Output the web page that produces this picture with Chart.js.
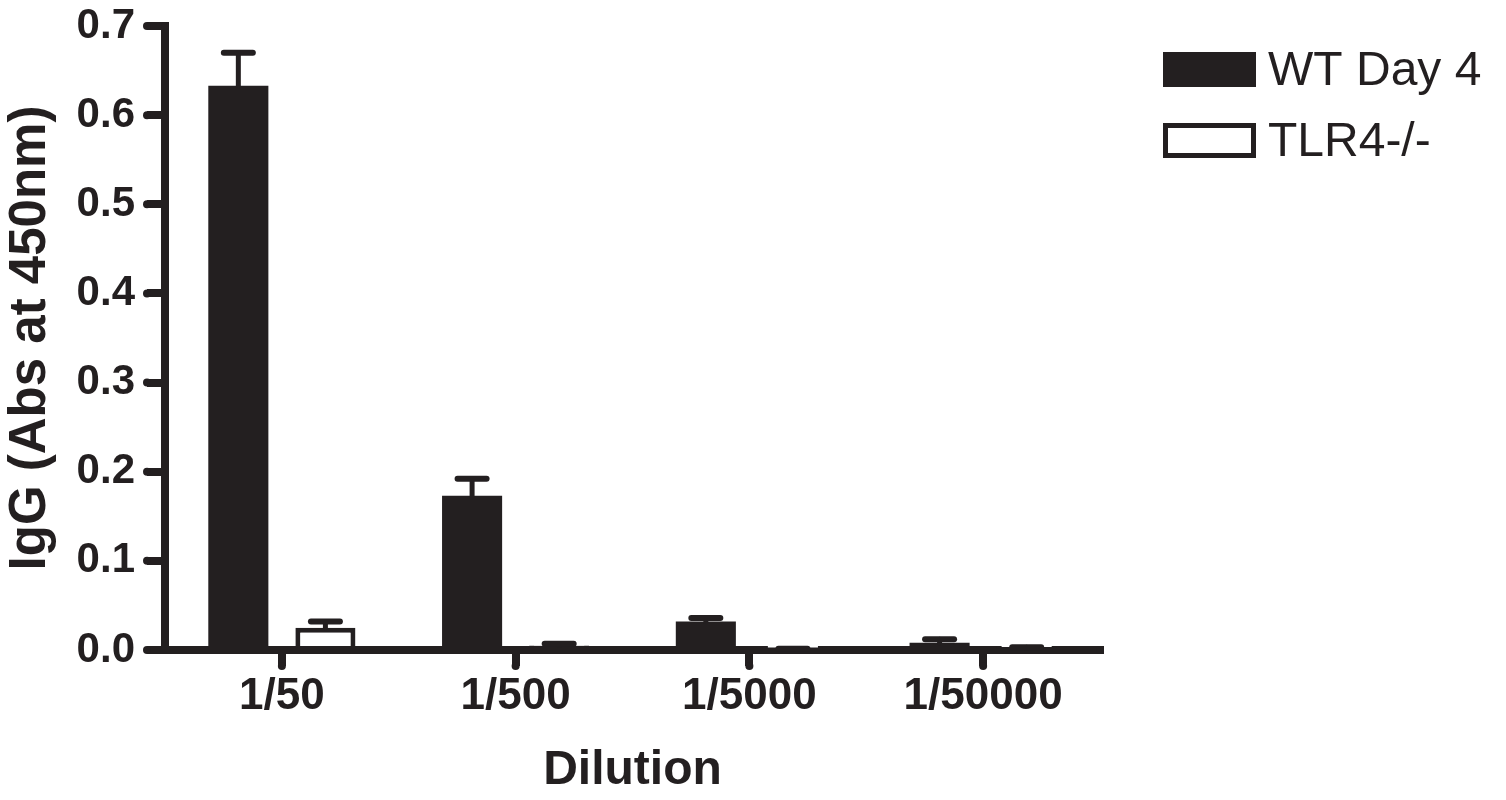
<!DOCTYPE html>
<html>
<head>
<meta charset="utf-8">
<script src="https://cdn.jsdelivr.net/npm/chart.js@4.4.1/dist/chart.umd.min.js"></script>
<style>
  html, body { margin: 0; padding: 0; background: #ffffff; }
  #wrap { width: 1506px; height: 800px; }
</style>
</head>
<body>
<div id="wrap"><canvas id="c" width="1506" height="800"></canvas></div>
<script>
const categories = ["1/50", "1/500", "1/5000", "1/50000"];
const wtValues = [0.633, 0.173, 0.032, 0.008];
const wtErrors = [0.037, 0.019, 0.004, 0.004];
const tlrValues = [0.025, 0.005, 0.001, 0.002];
const tlrErrors = [0.007, 0.002, 0.0005, 0.001];
const seriesNames = ["WT Day 4", "TLR4-/-"];
const yTicks = [0, 0.1, 0.2, 0.3, 0.4, 0.5, 0.6, 0.7];

const INK = '#231f20';
const FONT = '"Liberation Sans", Arial, Helvetica, sans-serif';
const AXIS_W = 8;
const Y_TICK_LEN = 18;
const X_TICK_LEN = 16;

const errorBarPlugin = {
  id: 'errorBars',
  afterDatasetsDraw(chart) {
    const ctx = chart.ctx;
    const yScale = chart.scales.y;
    chart.data.datasets.forEach((ds, di) => {
      const meta = chart.getDatasetMeta(di);
      meta.data.forEach((bar, i) => {
        const v = ds.data[i];
        const e = ds.errors[i];
        const yTop = yScale.getPixelForValue(v);
        const yErr = yScale.getPixelForValue(v + e);
        ctx.save();
        ctx.strokeStyle = INK;
        ctx.lineCap = 'round';
        ctx.lineWidth = 5;
        ctx.beginPath();
        ctx.moveTo(bar.x, yTop);
        ctx.lineTo(bar.x, yErr);
        ctx.stroke();
        ctx.lineWidth = 6;
        ctx.beginPath();
        ctx.moveTo(bar.x - 14.5, yErr);
        ctx.lineTo(bar.x + 14.5, yErr);
        ctx.stroke();
        ctx.restore();
      });
    });
  }
};

// round caps on axis ends and tick ends
const roundCapsPlugin = {
  id: 'roundCaps',
  afterDraw(chart) {
    const ctx = chart.ctx;
    const area = chart.chartArea;
    const r = AXIS_W / 2;
    ctx.save();
    ctx.fillStyle = INK;
    const dot = (x, y) => { ctx.beginPath(); ctx.arc(x, y, r, 0, Math.PI * 2); ctx.fill(); };
    chart.scales.y.ticks.forEach((t, i) => {
      dot(area.left - Y_TICK_LEN, chart.scales.y.getPixelForTick(i));
    });
    chart.scales.x.ticks.forEach((t, i) => {
      dot(chart.scales.x.getPixelForTick(i), area.bottom + X_TICK_LEN);
    });
    dot(area.right, area.bottom);
    dot(area.left, area.top);
    ctx.restore();
  }
};

const legendPlugin = {
  id: 'customLegend',
  afterDraw(chart) {
    const ctx = chart.ctx;
    const boxX = 1163, boxW = 93, boxH = 35;
    const rows = [52, 123];
    ctx.save();
    chart.data.datasets.forEach((ds, i) => {
      const y = rows[i];
      if (ds.backgroundColor === '#ffffff') {
        ctx.fillStyle = '#ffffff';
        ctx.fillRect(boxX, y, boxW, boxH);
        ctx.strokeStyle = INK;
        ctx.lineWidth = 5;
        ctx.strokeRect(boxX + 2.5, y + 2.5, boxW - 5, boxH - 5);
      } else {
        ctx.fillStyle = ds.backgroundColor;
        ctx.fillRect(boxX, y, boxW, boxH);
      }
      ctx.fillStyle = INK;
      ctx.font = '48px ' + FONT;
      ctx.textAlign = 'left';
      ctx.textBaseline = 'alphabetic';
      ctx.fillText(ds.label, 1268, y + 33);
    });
    ctx.restore();
  }
};

new Chart(document.getElementById('c'), {
  type: 'bar',
  data: {
    labels: categories,
    datasets: [
      {
        label: seriesNames[0],
        data: wtValues,
        errors: wtErrors,
        backgroundColor: INK,
        borderColor: INK,
        borderWidth: 0,
        categoryPercentage: 0.745,
        barPercentage: 0.69
      },
      {
        label: seriesNames[1],
        data: tlrValues,
        errors: tlrErrors,
        backgroundColor: '#ffffff',
        borderColor: INK,
        borderWidth: 5,
        borderSkipped: 'bottom',
        categoryPercentage: 0.745,
        barPercentage: 0.69
      }
    ]
  },
  options: {
    responsive: false,
    animation: false,
    devicePixelRatio: 1,
    layout: { padding: { top: 26, right: 406, left: 0, bottom: 0 } },
    plugins: {
      legend: { display: false },
      tooltip: { enabled: false }
    },
    scales: {
      x: {
        offset: true,
        grid: {
          offset: false,
          drawOnChartArea: false,
          drawTicks: true,
          tickLength: X_TICK_LEN,
          tickWidth: AXIS_W,
          tickColor: INK,
          lineWidth: AXIS_W,
          color: INK
        },
        border: { display: true, color: INK, width: AXIS_W },
        ticks: {
          color: INK,
          padding: 4,
          font: { family: FONT, size: 44, weight: 'bold' }
        },
        title: {
          display: true,
          text: 'Dilution',
          color: INK,
          padding: 0,
          font: { family: FONT, size: 48, weight: 'bold' }
        },
        afterFit(scale) {
          scale.height = 150;
          scale.paddingLeft = 0;
          scale.paddingRight = 0;
        }
      },
      y: {
        min: 0,
        max: 0.7,
        afterBuildTicks(scale) {
          scale.ticks = yTicks.map(v => ({ value: v }));
        },
        grid: {
          drawOnChartArea: false,
          drawTicks: true,
          tickLength: Y_TICK_LEN,
          tickWidth: AXIS_W,
          tickColor: INK,
          lineWidth: AXIS_W,
          color: INK
        },
        border: { display: true, color: INK, width: AXIS_W },
        ticks: {
          color: INK,
          padding: 12,
          font: { family: FONT, size: 42, weight: 'bold' },
          callback: (v) => Number(v).toFixed(1)
        },
        title: {
          display: true,
          text: 'IgG (Abs at 450nm)',
          color: INK,
          padding: { top: 0, bottom: 0 },
          font: { family: FONT, size: 51, weight: 'bold' }
        },
        afterFit(scale) {
          scale.width = 165;
          scale.paddingTop = 0;
          scale.paddingBottom = 0;
        }
      }
    }
  },
  plugins: [errorBarPlugin, roundCapsPlugin, legendPlugin]
});
</script>
</body>
</html>
